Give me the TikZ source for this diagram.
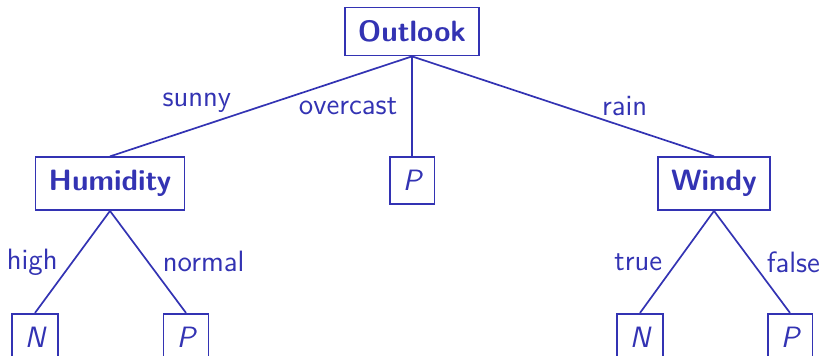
\documentclass[tikz,border=0pt]{standalone}
\usepackage{tikz}
\usetikzlibrary{positioning}
\definecolor{treeblue}{RGB}{51,51,179}

\begin{document}
\begin{tikzpicture}[
      color=treeblue,
      font=\sffamily\fontsize{14.7}{17}\selectfont,
      attr/.style={draw, line width=0.85pt, inner sep=6.6pt,
                   font=\sffamily\bfseries\fontsize{14.7}{17}\selectfont},
      leaf/.style={draw, line width=0.85pt, inner sep=6.6pt,
                   font=\sffamily\itshape\fontsize{14.7}{17}\selectfont},
      br/.style={line width=0.85pt},
      lbl/.style={inner sep=7pt},
      node distance=50pt
    ]
    \useasboundingbox (0,0) rectangle (411pt,178pt);
    \node[attr] (outlook) at (206pt,162.25pt) {Outlook};
    \node[attr, below=of outlook, xshift=-151pt] (humidity) {Humidity};
    \node[leaf, below=of outlook]                (pover)    {P};
    \node[attr, below=of outlook, xshift=151pt]  (windy)    {Windy};
    \node[leaf, below=51pt of humidity, xshift=-37.5pt] (nhigh)   {N};
    \node[leaf, below=51pt of humidity, xshift=38pt]    (pnormal) {P};
    \node[leaf, below=51pt of windy, xshift=-37pt]      (ntrue)   {N};
    \node[leaf, below=51pt of windy, xshift=38pt]       (pfalse)  {P};
    % branches
    \draw[br] (outlook.south) -- node[pos=0.59, above left, inner sep=1pt] {sunny} (humidity.north);
    \draw[br] (outlook.south) -- node[midway, left, lbl] {overcast} (pover.north);
    \draw[br] (outlook.south) -- node[pos=0.62, above right, inner sep=1pt] {rain} (windy.north);
    \draw[br] (humidity.south) -- node[midway, left, lbl] {high} (nhigh.north);
    \draw[br] (humidity.south) -- node[midway, right, lbl] {normal} (pnormal.north);
    \draw[br] (windy.south) -- node[midway, left, lbl] {true} (ntrue.north);
    \draw[br] (windy.south) -- node[midway, right, lbl] {false} (pfalse.north);
  \end{tikzpicture}
\end{document}
